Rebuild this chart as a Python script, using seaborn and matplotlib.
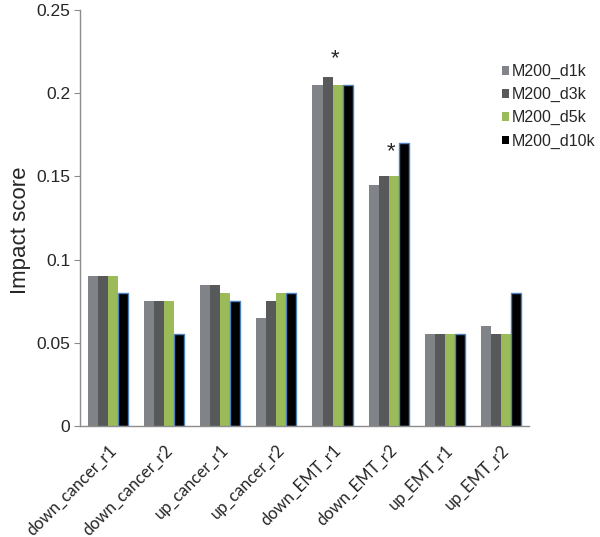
import seaborn as sns
import matplotlib.pyplot as plt
import pandas as pd

sns.set_style("white")
plt.rcParams['font.family'] = ['Liberation Sans', 'DejaVu Sans']

categories = ['down_cancer_r1', 'down_cancer_r2', 'up_cancer_r1', 'up_cancer_r2',
              'down_EMT_r1', 'down_EMT_r2', 'up_EMT_r1', 'up_EMT_r2']
series = ['M200_d1k', 'M200_d3k', 'M200_d5k', 'M200_d10k']
d1k = [0.09, 0.075, 0.085, 0.065, 0.205, 0.145, 0.055, 0.06]
d3k = [0.09, 0.075, 0.085, 0.075, 0.21, 0.15, 0.055, 0.055]
d5k = [0.09, 0.075, 0.08, 0.08, 0.205, 0.15, 0.055, 0.055]
d10k = [0.08, 0.055, 0.075, 0.08, 0.205, 0.17, 0.055, 0.08]
# significance marks: (category, height)
stars = [('down_EMT_r1', 0.221), ('down_EMT_r2', 0.165)]

colors = ['#808488', '#58595b', '#9bbb59', '#000000']

rows = []
for name, vals in zip(series, [d1k, d3k, d5k, d10k]):
    for cat, v in zip(categories, vals):
        rows.append({'group': cat, 'series': name, 'score': v})
df = pd.DataFrame(rows)

fig = plt.figure(figsize=(6, 5.37), dpi=100)
ax = fig.add_axes([0.1333, 0.2067, 0.7483, 0.7747])

sns.barplot(data=df, x='group', y='score', hue='series', palette=colors,
            order=categories, hue_order=series, width=0.714, saturation=1,
            linewidth=0, ax=ax)

# blue outline on the black series
for patch in ax.containers[3]:
    patch.set_edgecolor('#4f81bd')
    patch.set_linewidth(1.0)

for cat, h in stars:
    ax.text(categories.index(cat) + 0.04, h, '*', ha='center', va='center',
            fontsize=16)

ax.set_ylim(0, 0.25)
ax.set_xlim(-0.5, len(categories) - 0.5)
ax.set_yticks([0, 0.05, 0.1, 0.15, 0.2, 0.25])
ax.set_yticklabels(['0', '0.05', '0.1', '0.15', '0.2', '0.25'], fontsize=12.5)
ax.set_xticks(range(len(categories)))
ax.set_xticklabels(categories, rotation=45, ha='right', rotation_mode='anchor',
                   fontsize=12, family=['Lato', 'DejaVu Sans'])
ax.set_xlabel('')
ax.set_ylabel('Impact score', fontsize=16, labelpad=6)
ax.yaxis.set_label_coords(-0.11, 0.47)

for s in ['top', 'right']:
    ax.spines[s].set_visible(False)
for s in ['left', 'bottom']:
    ax.spines[s].set_color('#8c8c8c')
    ax.spines[s].set_linewidth(1)
ax.tick_params(axis='y', left=True, length=4, color='#8c8c8c', pad=3)
ax.tick_params(axis='x', bottom=False, pad=8)

handles, labels = ax.get_legend_handles_labels()
ax.legend(handles, labels, loc='upper left', bbox_to_anchor=(0.94, 0.87),
          frameon=False, fontsize=11.5, handlelength=0.42, handleheight=0.42,
          handletextpad=0.2, labelspacing=0.5, borderaxespad=0, borderpad=0)

fig.savefig('out.png', dpi=100)
